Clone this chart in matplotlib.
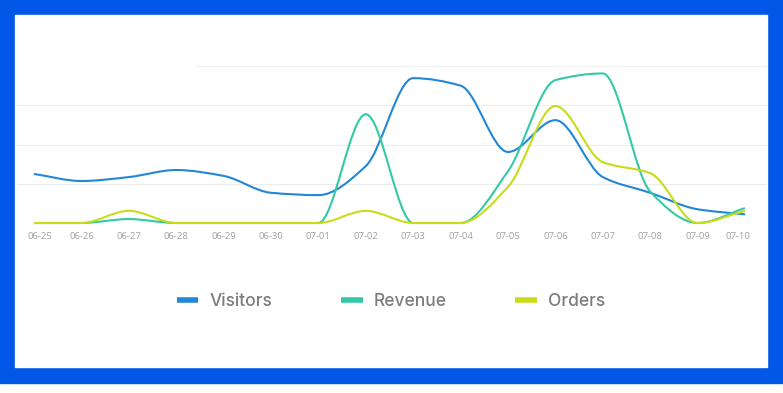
import numpy as np
import matplotlib
matplotlib.use("Agg")
import matplotlib.pyplot as plt
from matplotlib.path import Path
from matplotlib.patches import PathPatch, Rectangle
from matplotlib.lines import Line2D
from matplotlib.transforms import ScaledTranslation

# daily values (arbitrary units, gridline step = 1)
dates = ["06-25", "06-26", "06-27", "06-28", "06-29", "06-30", "07-01", "07-02",
         "07-03", "07-04", "07-05", "07-06", "07-07", "07-08", "07-09", "07-10"]
visitors = [1.25, 1.07, 1.17, 1.35, 1.20, 0.77, 0.71, 1.45,
            3.69, 3.50, 1.81, 2.62, 1.17, 0.77, 0.35, 0.22]
revenue = [0.0, 0.0, 0.10, 0.0, 0.0, 0.0, 0.0, 2.77,
           0.0, 0.0, 1.32, 3.64, 3.81, 0.80, 0.0, 0.38]
orders = [0.0, 0.0, 0.31, 0.0, 0.0, 0.0, 0.0, 0.31,
          0.0, 0.0, 0.92, 2.98, 1.55, 1.27, 0.0, 0.31]

series_names = ["Visitors", "Revenue", "Orders"]
colors = ["#2287d6", "#33c9a7", "#c8dc18"]
frame_blue = "#0258e6"


def smooth_path(xs, ys):
    # monotone cubic (Fritsch-Carlson) tangents -> bezier segments
    xs = np.asarray(xs, float)
    ys = np.asarray(ys, float)
    d = np.diff(ys) / np.diff(xs)
    m = np.zeros_like(ys)
    m[0], m[-1] = d[0], d[-1]
    for i in range(1, len(ys) - 1):
        if d[i - 1] * d[i] > 0:
            m[i] = 2 / (1 / d[i - 1] + 1 / d[i])
    verts = [(xs[0], ys[0])]
    codes = [Path.MOVETO]
    for i in range(len(xs) - 1):
        h = xs[i + 1] - xs[i]
        verts += [(xs[i] + h / 3, ys[i] + m[i] * h / 3),
                  (xs[i + 1] - h / 3, ys[i + 1] - m[i + 1] * h / 3),
                  (xs[i + 1], ys[i + 1])]
        codes += [Path.CURVE4] * 3
    return Path(verts, codes)


W, H = 783, 393
fig = plt.figure(figsize=(W / 100, H / 100), dpi=100)
fig.patch.set_facecolor("white")

# blue frame around the screenshot
fig.add_artist(Rectangle((0, 1 - 383 / H), 782 / W, 383 / H,
                         transform=fig.transFigure, color=frame_blue, zorder=0))
fig.add_artist(Rectangle((15 / W, 1 - 367 / H), (767 - 15) / W, (367 - 15) / H,
                         transform=fig.transFigure, color="white", zorder=0))

ax = fig.add_axes([17 / W, 1 - 223 / H, (767 - 17) / W, (223 - 66) / H])
ax.set_facecolor("none")
x = np.arange(len(dates))
unit = (745 - 34) / 15
ax.set_xlim(-(34 - 17) / unit, 15 + (767 - 745) / unit)
ax.set_ylim(0, 4)

for yv in [0, 1, 2, 3]:
    ax.axhline(yv, color="#ececec", lw=0.8, zorder=1)
ax.axhline(4, xmin=(197 - 17) / 750, color="#f0f0f0", lw=0.8, zorder=1)

for vals, c in zip([visitors, revenue, orders], colors):
    ax.add_patch(PathPatch(smooth_path(x, vals), fill=False, edgecolor=c,
                           lw=1.5, clip_on=False, zorder=3))

for s in ax.spines.values():
    s.set_visible(False)
ax.set_yticks([])
ax.set_xticks(x)
ax.set_xticklabels(dates, fontsize=6.8, color="#a0a0a0", family="Open Sans")
ax.tick_params(axis="x", length=0, pad=6.3)
labels = ax.get_xticklabels()
labels[0].set_transform(labels[0].get_transform() + ScaledTranslation(6 / 100, 0, fig.dpi_scale_trans))
labels[-1].set_transform(labels[-1].get_transform() + ScaledTranslation(-7 / 100, 0, fig.dpi_scale_trans))

handles = [Line2D([], [], color=c, lw=4, solid_capstyle="butt") for c in colors]
leg = fig.legend(handles, series_names, loc="center", ncol=3,
                 bbox_to_anchor=(391 / W, 1 - 302 / H), frameon=False,
                 prop={"family": "Inter", "size": 12.5, "weight": "medium"},
                 handlelength=1.25, handletextpad=0.65, columnspacing=3.95)
for t in leg.get_texts():
    t.set_color("#7d7d7d")

fig.savefig("out.png", dpi=100)
